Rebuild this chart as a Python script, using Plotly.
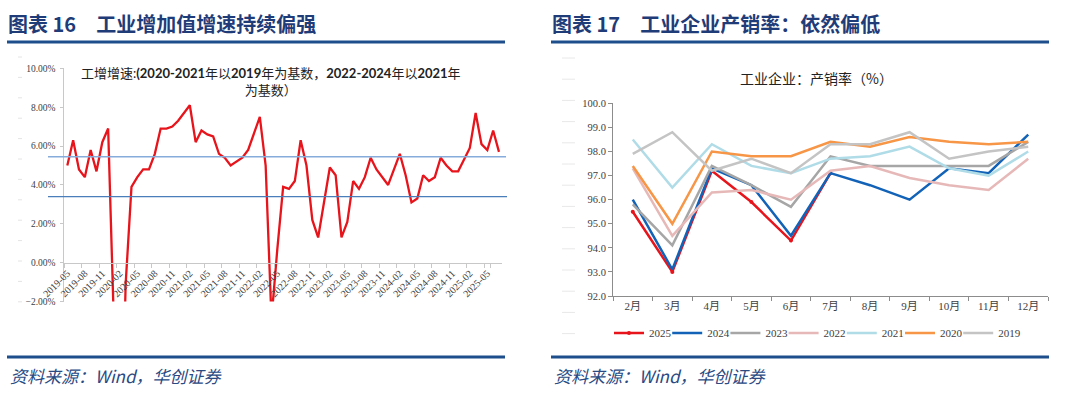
import plotly.graph_objects as go

W, H = 1080, 393

# ---------------- data: left chart (industrial value added growth, %) ----------------
all_months = [f"{y}-{m:02d}" for y in range(2019, 2026) for m in range(1, 13)]
months = all_months[all_months.index("2019-05"): all_months.index("2025-07") + 1]
ip_growth = [
    5.0, 6.3, 4.8, 4.4, 5.8, 4.7, 6.2, 6.9,                       # 2019-05..12
    None, -13.5, -1.1, 3.9, 4.4, 4.8, 4.8, 5.6, 6.9, 6.9, 7.0, 7.3,  # 2020
    None, 8.1, 6.2, 6.8, 6.6, 6.5, 5.6, 5.4, 5.0, 5.2, 5.4, 5.8,    # 2021
    None, 7.5, 5.0, -2.9, 0.7, 3.9, 3.8, 4.2, 6.3, 5.0, 2.2, 1.3,   # 2022
    None, 4.9, 4.5, 1.3, 2.1, 4.2, 3.8, 4.4, 5.4, 4.8, 4.4, 4.0,    # 2023
    None, 5.6, 4.5, 3.1, 3.3, 4.5, 4.2, 4.4, 5.4, 5.0, 4.7, 4.7,    # 2024
    None, 5.9, 7.7, 6.1, 5.8, 6.8, 5.7,                             # 2025
]
left_ticklabels = months[::3]
ref_levels = [5.45, 3.4]
left_title = ("工增增速:<b>(2020-2021</b>年以<b>2019</b>年为基数，<b>2022-2024</b>年以<b>2021</b>年"
              "<br>为基数）")

# ---------------- data: right chart (production-sales ratio, %) ----------------
month_cats = ["2月", "3月", "4月", "5月", "6月", "7月", "8月", "9月", "10月", "11月", "12月"]
years = ["2025", "2024", "2023", "2022", "2021", "2020", "2019"]
r2025 = [95.5, 93.0, 97.2, 95.9, 94.3, 97.1]
r2024 = [96.0, 93.1, 97.3, 96.6, 94.5, 97.1, 96.6, 96.0, 97.3, 97.1, 98.7]
r2023 = [95.8, 94.1, 97.4, 96.6, 95.7, 97.8, 97.4, 97.4, 97.4, 97.4, 98.4]
r2022 = [97.3, 94.5, 96.3, 96.4, 96.0, 97.2, 97.4, 96.9, 96.6, 96.4, 97.7]
r2021 = [98.5, 96.5, 98.3, 97.4, 97.1, 97.7, 97.8, 98.2, 97.3, 97.0, 98.0]
r2020 = [97.4, 95.0, 98.0, 97.8, 97.8, 98.4, 98.2, 98.6, 98.4, 98.3, 98.4]
r2019 = [97.9, 98.8, 97.2, 97.7, 97.1, 98.3, 98.3, 98.8, 97.7, 98.0, 98.2]
right_series = [r2025, r2024, r2023, r2022, r2021, r2020, r2019]
right_colors = ["#E8141C", "#1263B8", "#A6A6A6", "#E6B9B8", "#B0DCE8", "#F79646", "#C4C4C4"]


def px(x):
    return x / W


def py(y):
    return 1 - y / H


fig = go.Figure()

# left chart line
fig.add_trace(go.Scatter(
    x=months, y=ip_growth, mode="lines", connectgaps=True,
    line=dict(color="#E8141C", width=2.3), showlegend=False,
    xaxis="x", yaxis="y", hoverinfo="skip"))

serif = "Liberation Serif, Noto Sans CJK SC"
tickcol = "#404040"

# right chart lines, each with its own legend box so entries sit evenly spaced
legend_layout = {}
for k, (name, vals, col) in enumerate(zip(years, right_series, right_colors)):
    is25 = name == "2025"
    lg = "legend" if k == 0 else f"legend{k + 1}"
    fig.add_trace(go.Scatter(
        x=month_cats[:len(vals)], y=vals, name=name, legend=lg,
        mode="lines+markers" if is25 else "lines",
        line=dict(color=col, width=2.5),
        marker=dict(size=4, color=col, symbol="circle"),
        xaxis="x2", yaxis="y2", hoverinfo="skip"))
    legend_layout[lg] = dict(
        orientation="h", x=px(609 + 58.2 * k), y=py(333), xanchor="left", yanchor="middle",
        font=dict(family=serif, size=11, color=tickcol), itemwidth=30,
        bgcolor="rgba(0,0,0,0)", borderwidth=0)

# left axes
ly_bot, ly_top = py(301.6), py(68.3)
ymin, ymax = -2, 10
zero_pos = ly_bot + (0 - ymin) / (ymax - ymin) * (ly_top - ly_bot)

layout = dict(
    width=W, height=H,
    margin=dict(l=0, r=0, t=0, b=0, autoexpand=False),
    paper_bgcolor="white", plot_bgcolor="rgba(0,0,0,0)",
    xaxis=dict(
        domain=[px(64.4), px(501.9)], type="category", range=[-0.5, len(months) - 0.5],
        tickson="boundaries", tickvals=left_ticklabels, ticktext=left_ticklabels,
        ticks="outside", ticklen=4, tickcolor="#C8C8C8",
        showline=True, linecolor="#C8C8C8", linewidth=1,
        showgrid=False, zeroline=False, tickangle=-45,
        tickfont=dict(family=serif, size=10, color=tickcol),
        anchor="free", position=zero_pos, fixedrange=True, automargin=False),
    yaxis=dict(
        domain=[ly_bot, ly_top], range=[ymin, ymax], dtick=2,
        tickformat=".2f", ticksuffix="%",
        ticks="outside", ticklen=3, tickcolor="#C8C8C8", ticklabelstandoff=3,
        showline=True, linecolor="#C8C8C8", linewidth=1,
        showgrid=False, zeroline=False, anchor="x",
        tickfont=dict(family=serif, size=9.5, color=tickcol), fixedrange=True, automargin=False),
    xaxis2=dict(
        domain=[px(613), px(1048)], type="category", range=[-0.5, len(month_cats) - 0.5],
        tickson="boundaries", ticks="outside", ticklen=4, tickcolor="#8C8C8C",
        showline=True, linecolor="#8C8C8C", linewidth=1,
        showgrid=False, zeroline=False, anchor="y2",
        tickfont=dict(family=serif, size=11, color=tickcol), fixedrange=True, automargin=False),
    yaxis2=dict(
        domain=[py(296), py(103.3)], range=[92, 100], dtick=1, tickformat=".1f",
        ticks="outside", ticklen=4, tickcolor="#8C8C8C",
        showline=True, linecolor="#8C8C8C", linewidth=1,
        showgrid=False, zeroline=False, anchor="x2",
        tickfont=dict(family=serif, size=10.5, color=tickcol), fixedrange=True, automargin=False),
    showlegend=True,
)
layout.update(legend_layout)
fig.update_layout(**layout)

shapes = []
navy = "#1F4E8C"
# header and footer rules
for x0, x1 in [(7, 505), (551, 1049)]:
    shapes.append(dict(type="line", xref="paper", yref="paper", x0=px(x0), x1=px(x1),
                       y0=py(42), y1=py(42), line=dict(color=navy, width=3)))
    shapes.append(dict(type="line", xref="paper", yref="paper", x0=px(x0), x1=px(x1),
                       y0=py(357), y1=py(357), line=dict(color=navy, width=3)))

# reference levels on the left chart
for lvl, col, xr in zip(ref_levels, ["#86ACDC", "#4A7EBB"], [506, 507]):
    shapes.append(dict(type="line", xref="paper", yref="y", x0=px(48), x1=px(xr),
                       y0=lvl, y1=lvl, line=dict(color=col, width=1.3)))

# faint decorative dashes at the left edge of each panel
for i in range(13):
    yy = 57 + i * 20.4
    shapes.append(dict(type="line", xref="paper", yref="paper", x0=px(18), x1=px(22),
                       y0=py(yy), y1=py(yy), line=dict(color="#E4E4E4", width=1)))
for i in range(14):
    yy = 58 + i * 21.2
    shapes.append(dict(type="line", xref="paper", yref="paper", x0=px(562), x1=px(575),
                       y0=py(yy), y1=py(yy), line=dict(color="#E8E8E8", width=1)))
fig.update_layout(shapes=shapes)

hdr_font = dict(family="Noto Sans CJK SC", size=20, color="#1F3C78")
foot_font = dict(family="Noto Sans CJK SC, Liberation Serif", size=17, color="#2A4A84")
annotations = [
    dict(text="<b>图表 16　工业增加值增速持续偏强</b>", x=px(6), y=py(24), xref="paper", yref="paper",
         xanchor="left", yanchor="middle", showarrow=False, font=hdr_font),
    dict(text="<b>图表 17　工业企业产销率：依然偏低</b>", x=px(550), y=py(24), xref="paper", yref="paper",
         xanchor="left", yanchor="middle", showarrow=False, font=hdr_font),
    dict(text="<i>资料来源：Wind，华创证券</i>", x=px(8), y=py(375), xref="paper", yref="paper",
         xanchor="left", yanchor="middle", showarrow=False, font=foot_font),
    dict(text="<i>资料来源：Wind，华创证券</i>", x=px(552), y=py(375), xref="paper", yref="paper",
         xanchor="left", yanchor="middle", showarrow=False, font=foot_font),
    dict(text=left_title, x=px(271), y=py(82), xref="paper", yref="paper",
         xanchor="center", yanchor="middle", showarrow=False, align="center",
         font=dict(family="Lato, Noto Sans CJK SC", size=13, color="#222222")),
    dict(text="工业企业：产销率（%）", x=px(816), y=py(78), xref="paper", yref="paper",
         xanchor="center", yanchor="middle", showarrow=False,
         font=dict(family="Noto Sans CJK SC", size=14, color="#222222")),
]
fig.update_layout(annotations=annotations)

fig.write_html("out.html", config={"displayModeBar": False},
               post_script="document.body.style.margin='0';")
